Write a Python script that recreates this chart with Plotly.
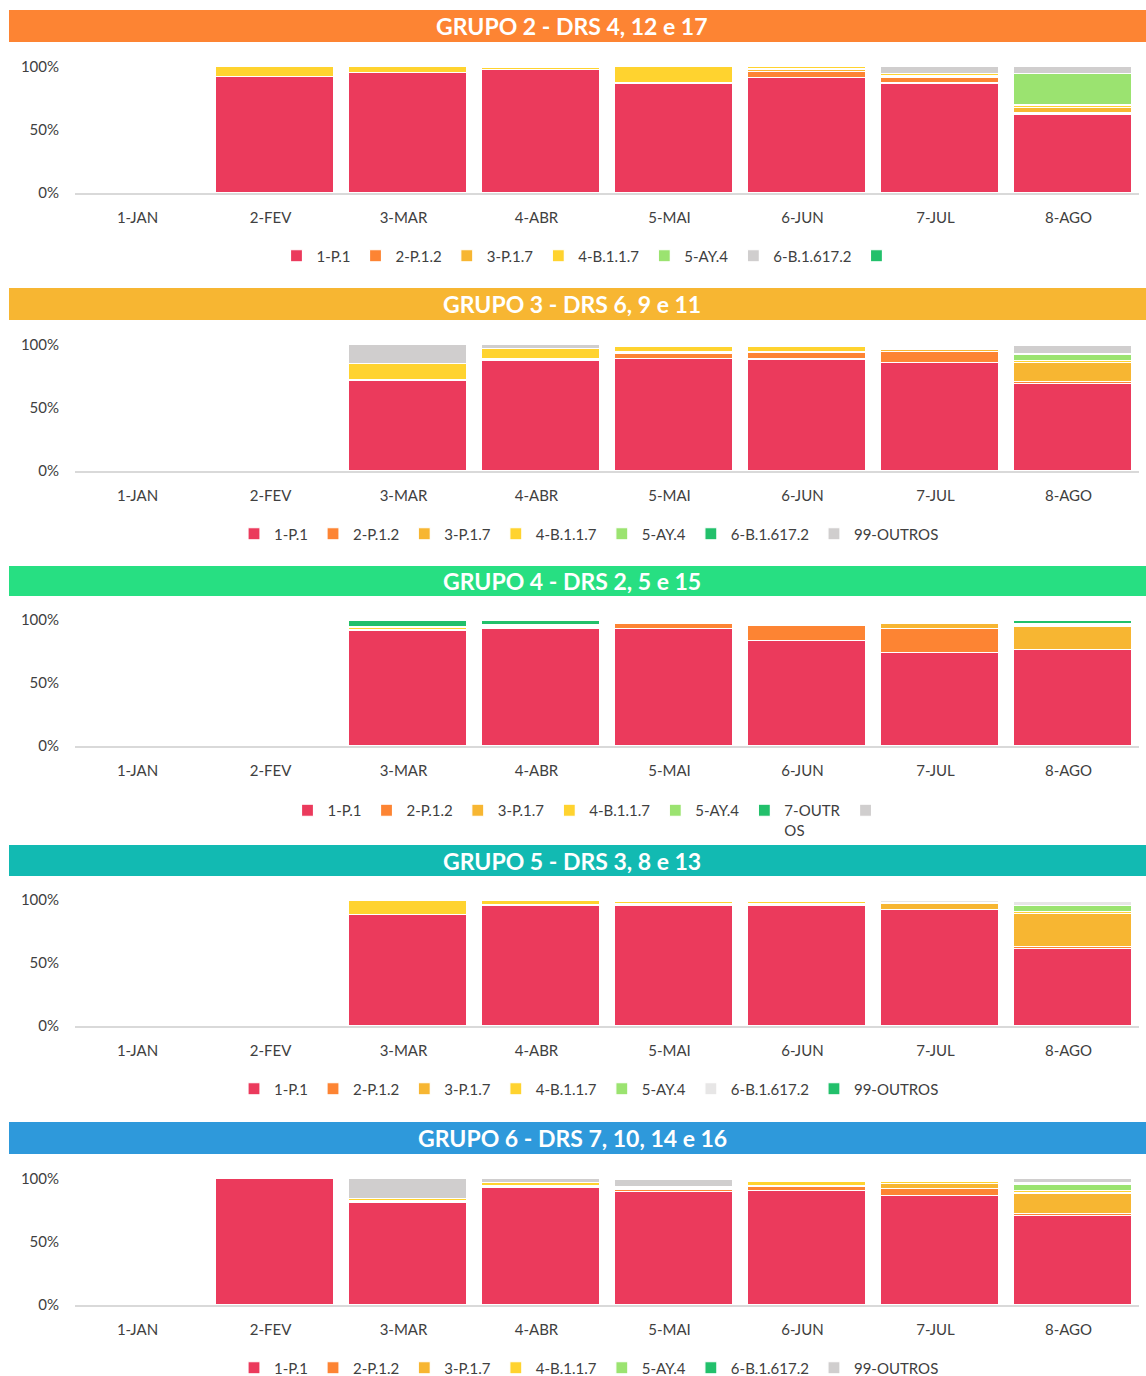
import plotly.graph_objects as go

W, H = 1146, 1376

months = ["1-JAN", "2-FEV", "3-MAR", "4-ABR", "5-MAI", "6-JUN", "7-JUL", "8-AGO"]

# colours
RED = "#EB3A5C"
ORANGE = "#FD8433"
AMBER = "#F7B632"
YELLOW = "#FFD32F"
LGREEN = "#9BE370"
DGREEN = "#22C06B"
GRAY = "#D0CECE"
LGRAY = "#E7E6E6"

# ---------------- GRUPO 2 ----------------
g2_names = ["1-P.1", "2-P.1.2", "3-P.1.7", "4-B.1.1.7", "5-AY.4", "6-B.1.617.2", " "]
g2_colors = [RED, ORANGE, AMBER, YELLOW, LGREEN, GRAY, DGREEN]
g2_p1 = [None, 0.920, 0.953, 0.976, 0.870, 0.910, 0.870, 0.625]
g2_p12 = [None, 0, 0, 0, 0, 0.050, 0.040, 0.010]
g2_p17 = [None, 0, 0, 0, 0, 0.020, 0.015, 0.040]
g2_b117 = [None, 0.080, 0.047, 0.020, 0.130, 0.020, 0.020, 0.020]
g2_ay4 = [None, 0, 0, 0, 0, 0, 0, 0.250]
g2_b16172 = [None, 0, 0, 0.004, 0, 0, 0.055, 0.055]
g2_outros = [None, 0, 0, 0, 0, 0, 0, 0]

# ---------------- GRUPO 3 ----------------
g3_names = ["1-P.1", "2-P.1.2", "3-P.1.7", "4-B.1.1.7", "5-AY.4", "6-B.1.617.2", "99-OUTROS"]
g3_colors = [RED, ORANGE, AMBER, YELLOW, LGREEN, DGREEN, GRAY]
g3_p1 = [None, None, 0.720, 0.875, 0.890, 0.885, 0.860, 0.690]
g3_p12 = [None, None, 0, 0, 0.040, 0.055, 0.085, 0.015]
g3_p17 = [None, None, 0, 0.010, 0.010, 0.005, 0.020, 0.155]
g3_b117 = [None, None, 0.130, 0.085, 0.045, 0.040, 0.015, 0.015]
g3_ay4 = [None, None, 0, 0, 0, 0.005, 0, 0.045]
g3_b16172 = [None, None, 0, 0, 0, 0, 0, 0.005]
g3_outros = [None, None, 0.150, 0.030, 0, 0, 0.005, 0.070]

# ---------------- GRUPO 4 ----------------
g4_names = ["1-P.1", "2-P.1.2", "3-P.1.7", "4-B.1.1.7", "5-AY.4", "7-OUTR<br>OS", " "]
g4_colors = [RED, ORANGE, AMBER, YELLOW, LGREEN, DGREEN, GRAY]
g4_p1 = [None, None, 0.915, 0.935, 0.935, 0.835, 0.740, 0.765]
g4_p12 = [None, None, 0, 0, 0.035, 0.125, 0.190, 0]
g4_p17 = [None, None, 0.010, 0.010, 0.010, 0, 0.040, 0.185]
g4_b117 = [None, None, 0.015, 0.015, 0, 0, 0.010, 0.010]
g4_ay4 = [None, None, 0.010, 0, 0, 0, 0, 0.010]
g4_outros = [None, None, 0.050, 0.040, 0, 0, 0, 0.025]
g4_blank = [None, None, 0, 0, 0, 0, 0, 0]

# ---------------- GRUPO 5 ----------------
g5_names = ["1-P.1", "2-P.1.2", "3-P.1.7", "4-B.1.1.7", "5-AY.4", "6-B.1.617.2", "99-OUTROS"]
g5_colors = [RED, ORANGE, AMBER, YELLOW, LGREEN, LGRAY, DGREEN]
g5_p1 = [None, None, 0.885, 0.955, 0.955, 0.960, 0.925, 0.615]
g5_p12 = [None, None, 0, 0, 0.010, 0.010, 0, 0.015]
g5_p17 = [None, None, 0, 0.010, 0.010, 0.005, 0.045, 0.260]
g5_b117 = [None, None, 0.115, 0.035, 0.015, 0.015, 0.010, 0.020]
g5_ay4 = [None, None, 0, 0, 0, 0, 0, 0.045]
g5_b16172 = [None, None, 0, 0, 0.010, 0.010, 0.020, 0.030]
g5_outros = [None, None, 0, 0, 0, 0, 0, 0.015]

# ---------------- GRUPO 6 ----------------
g6_names = ["1-P.1", "2-P.1.2", "3-P.1.7", "4-B.1.1.7", "5-AY.4", "6-B.1.617.2", "99-OUTROS"]
g6_colors = [RED, ORANGE, AMBER, YELLOW, LGREEN, DGREEN, GRAY]
g6_p1 = [None, 1.000, 0.815, 0.930, 0.900, 0.905, 0.865, 0.710]
g6_p12 = [None, 0, 0, 0.005, 0.015, 0.030, 0.055, 0.015]
g6_p17 = [None, 0, 0.010, 0.010, 0.010, 0.010, 0.040, 0.160]
g6_b117 = [None, 0, 0.015, 0.025, 0.010, 0.035, 0.015, 0.020]
g6_ay4 = [None, 0, 0, 0, 0, 0, 0, 0.050]
g6_b16172 = [None, 0, 0, 0, 0, 0, 0, 0.010]
g6_outros = [None, 0, 0.160, 0.030, 0.060, 0, 0, 0.035]

titles = ["GRUPO 2 - DRS 4, 12 e 17", "GRUPO 3 - DRS 6, 9 e 11", "GRUPO 4 - DRS 2, 5 e 15",
          "GRUPO 5 - DRS 3, 8 e 13", "GRUPO 6 - DRS 7, 10, 14 e 16"]
header_colors = ["#FD8433", "#F7B632", "#27DF82", "#12BAB2", "#2E99DB"]

panel_series = [
    (g2_names, g2_colors, [g2_p1, g2_p12, g2_p17, g2_b117, g2_ay4, g2_b16172, g2_outros]),
    (g3_names, g3_colors, [g3_p1, g3_p12, g3_p17, g3_b117, g3_ay4, g3_b16172, g3_outros]),
    (g4_names, g4_colors, [g4_p1, g4_p12, g4_p17, g4_b117, g4_ay4, g4_outros, g4_blank]),
    (g5_names, g5_colors, [g5_p1, g5_p12, g5_p17, g5_b117, g5_ay4, g5_b16172, g5_outros]),
    (g6_names, g6_colors, [g6_p1, g6_p12, g6_p17, g6_b117, g6_ay4, g6_b16172, g6_outros]),
]

# layout geometry (pixels)
headers_px = [(10, 42), (288, 320), (566, 596), (845, 876), (1122, 1154)]
plots_px = [(66.5, 193), (344.5, 471), (620, 746), (900, 1026), (1178.5, 1305)]
legend_px = [256, 534, 794, 1089, 1368]
legend_x_px = [591, 589, 591, 589, 589]


def py(p):
    return 1 - p / H


def pxx(p):
    return p / W


FONT = "Lato, 'Open Sans', sans-serif"
TXT = "#404040"

fig = go.Figure()
layout = dict(
    width=W, height=H,
    margin=dict(l=0, r=0, t=0, b=0, pad=0, autoexpand=False),
    paper_bgcolor="white", plot_bgcolor="white",
    barmode="stack", bargap=0.105,
    font=dict(family=FONT, size=15, color=TXT),
    shapes=[], annotations=[],
)

for i, (names, colors, series) in enumerate(panel_series):
    k = "" if i == 0 else str(i + 1)
    xa, ya = "x" + k, "y" + k
    leg = "legend" + k
    for name, col, vals in zip(names, colors, series):
        fig.add_trace(go.Bar(
            x=months, y=vals, name=name, xaxis=xa, yaxis=ya, legend=leg,
            marker=dict(color=col, line=dict(color="white", width=1.2)),
            hovertemplate="%{x}: %{y:.1%}<extra>" + name + "</extra>",
        ))
    top, bot = plots_px[i]
    layout["xaxis" + k] = dict(
        domain=[pxx(75), pxx(1139)], anchor=ya, type="category",
        categoryorder="array", categoryarray=months,
        showline=True, linecolor="#D9D9D9", linewidth=1.5,
        showgrid=False, zeroline=False, ticks="", ticklabelstandoff=10,
        ticklabelshift=-4,
        tickfont=dict(family=FONT, size=15, color=TXT),
    )
    layout["yaxis" + k] = dict(
        domain=[py(bot), py(top)], anchor=xa, range=[0, 1],
        tickvals=[0, 0.5, 1], tickformat=".0%",
        showgrid=False, zeroline=False, showline=False, ticks="",
        ticklabelstandoff=15,
        tickfont=dict(family=FONT, size=15, color=TXT),
    )
    layout[leg] = dict(
        orientation="h", x=pxx(legend_x_px[i]), xanchor="center",
        y=py(legend_px[i]), yanchor="top" if i == 2 else "middle",
        valign="top", traceorder="normal", bgcolor="rgba(0,0,0,0)",
        font=dict(family=FONT, size=15, color=TXT), itemclick=False,
        itemdoubleclick=False,
    )
    h0, h1 = headers_px[i]
    layout["shapes"].append(dict(
        type="rect", xref="paper", yref="paper",
        x0=pxx(9), x1=1, y0=py(h1), y1=py(h0),
        fillcolor=header_colors[i], line=dict(width=0), layer="below",
    ))
    layout["annotations"].append(dict(
        text="<b>" + titles[i] + "</b>", xref="paper", yref="paper",
        x=pxx(572), y=py((h0 + h1) / 2), xanchor="center", yanchor="middle",
        showarrow=False, font=dict(family=FONT, size=23, color="white"),
    ))

fig.update_layout(**layout)
fig.write_html(
    "out.html",
    config={"displayModeBar": False},
    post_script="document.body.style.margin='0';document.body.style.padding='0';"
                "document.documentElement.style.overflow='hidden';",
)
